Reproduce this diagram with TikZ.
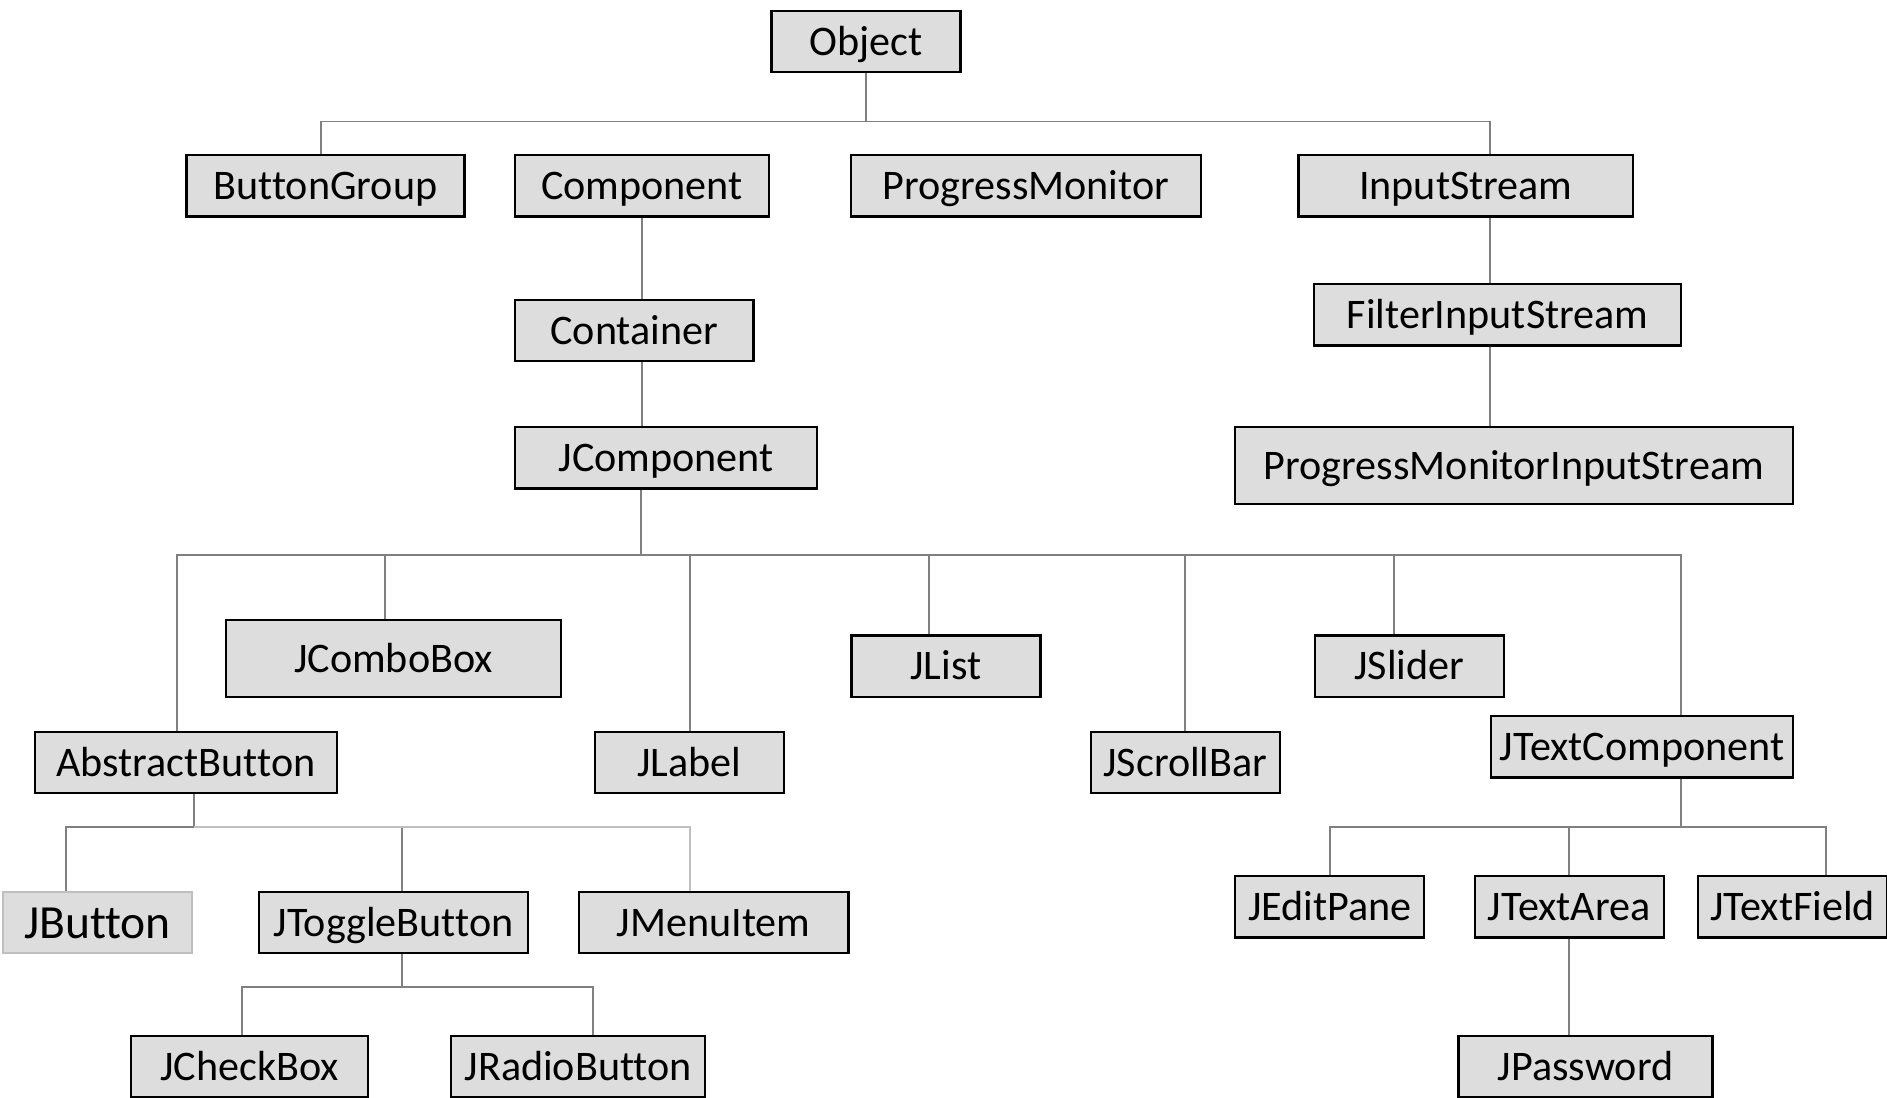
\documentclass[tikz,border=0pt]{standalone}
\usepackage{fontspec}
\setmainfont{Carlito}[Ligatures=NoCommon]
\definecolor{boxfill}{RGB}{221,221,221}
\definecolor{linkgray}{RGB}{128,128,128}
\definecolor{palegray}{RGB}{191,191,191}
\begin{document}
\begin{tikzpicture}[x=1pt,y=-1pt,
  box/.style={draw=black,line width=1.9pt,fill=boxfill,inner sep=0pt,
    minimum width=157,minimum height=51,text height=23pt,text depth=0pt,
    font=\fontsize{35}{42}\selectfont},
  link/.style={linkgray,line width=1.6pt}]
  \clip (0,0) rectangle (1568,912);
  % top rows
  \node[box] (obj) at (719.5,34.5) {Object};
  \node[box,minimum width=231] (bgrp) at (270.5,154.5) {ButtonGroup};
  \node[box,minimum width=211] (comp) at (533.5,154.5) {Component};
  \node[box,minimum width=291] (pmon) at (852.5,154.5) {ProgressMonitor};
  \node[box,minimum width=278] (instr) at (1218,154.5) {InputStream};
  \node[box,minimum width=198] (cont) at (527,274.5) {Container};
  \node[box,minimum width=251] (jcomp) at (553.5,380.5) {JComponent};
  \node[box,minimum width=305] (filt) at (1244.5,261.5) {FilterInputStream};
  \node[box,minimum width=464,minimum height=64] (pmis) at (1258,387) {ProgressMonitorInputStream};
  % JComponent children
  \node[box,minimum width=278,minimum height=64] (jcombo) at (327,547) {JComboBox};
  \node[box] (jlist) at (786,553.5) {JList};
  \node[box] (jslider) at (1171,553.5) {JSlider};
  \node[box,minimum width=251] (abut) at (154.5,633.5) {AbstractButton};
  \node[box] (jlabel) at (573,633.5) {JLabel};
  \node[box] (jscroll) at (985,633.5) {JScrollBar};
  \node[box,minimum width=251] (jtext) at (1364.5,620.5) {JTextComponent};
  % lower rows
  \node[box,draw=palegray,text height=26pt,font=\fontsize{39.5}{47}\selectfont] (jbutton) at (81,766.5) {JButton};
  \node[box,minimum width=224] (jtoggle) at (327,766.5) {JToggleButton};
  \node[box,minimum width=224] (jmenu) at (593,766.5) {JMenuItem};
  \node[box] (jedit) at (1105,753.5) {JEditPane};
  \node[box] (jarea) at (1304,753.5) {JTextArea};
  \node[box] (jfield) at (1489.5,753.5) {JTextField};
  \node[box,minimum width=197] (jcheck) at (207.5,886.5) {JCheckBox};
  \node[box,minimum width=211] (jradio) at (480.5,886.5) {JRadioButton};
  \node[box,minimum width=211] (jpass) at (1317.5,886.5) {JPassword};
  % connectors
  \draw[link] (obj.south) -- ++(0,40) coordinate (b0);
  \draw[link] (b0) -| ([xshift=-3.5pt]bgrp.north);
  \draw[link] (b0) -| ([xshift=20pt]instr.north);
  \draw[link] (comp.south) -- (comp.south |- cont.north);
  \draw[link] (comp.south |- cont.south) -- (comp.south |- jcomp.north);
  \draw[link] ([xshift=20pt]instr.south) -- ([xshift=-6.5pt]filt.north);
  \draw[link] ([xshift=-6.5pt]filt.south) -- ([xshift=-20pt]pmis.north);
  \draw[link] ([xshift=-20.5pt]jcomp.south) -- ++(0,54) coordinate (b1);
  \foreach \n/\d in {abut/-7.5,jcombo/-7,jlabel/0,jlist/-14,jscroll/0,jslider/-13,jtext/32.5}
    \draw[link] (b1) -| ([xshift=\d pt]\n.north);
  \draw[link] ([xshift=6.5pt]abut.south) -- ++(0,27) coordinate (b2);
  \draw[link] (b2) -| ([xshift=-26pt]jbutton.north);
  \draw[link] (b2) -| ([xshift=7pt]jtoggle.north);
  \draw[link,palegray] (b2) -| ([xshift=-20pt]jmenu.north);
  \draw[link] ([xshift=7pt]jtoggle.south) -- ++(0,27) coordinate (b3);
  \draw[link] (b3) -| ([xshift=-6.5pt]jcheck.north);
  \draw[link] (b3) -| ([xshift=12.5pt]jradio.north);
  \draw[link] ([xshift=32.5pt]jtext.south) -- ++(0,40) coordinate (b4);
  \foreach \n/\d in {jedit/0,jarea/0,jfield/27.5}
    \draw[link] (b4) -| ([xshift=\d pt]\n.north);
  \draw[link] (jarea.south) -- ([xshift=-13.5pt]jpass.north);
\end{tikzpicture}
\end{document}
